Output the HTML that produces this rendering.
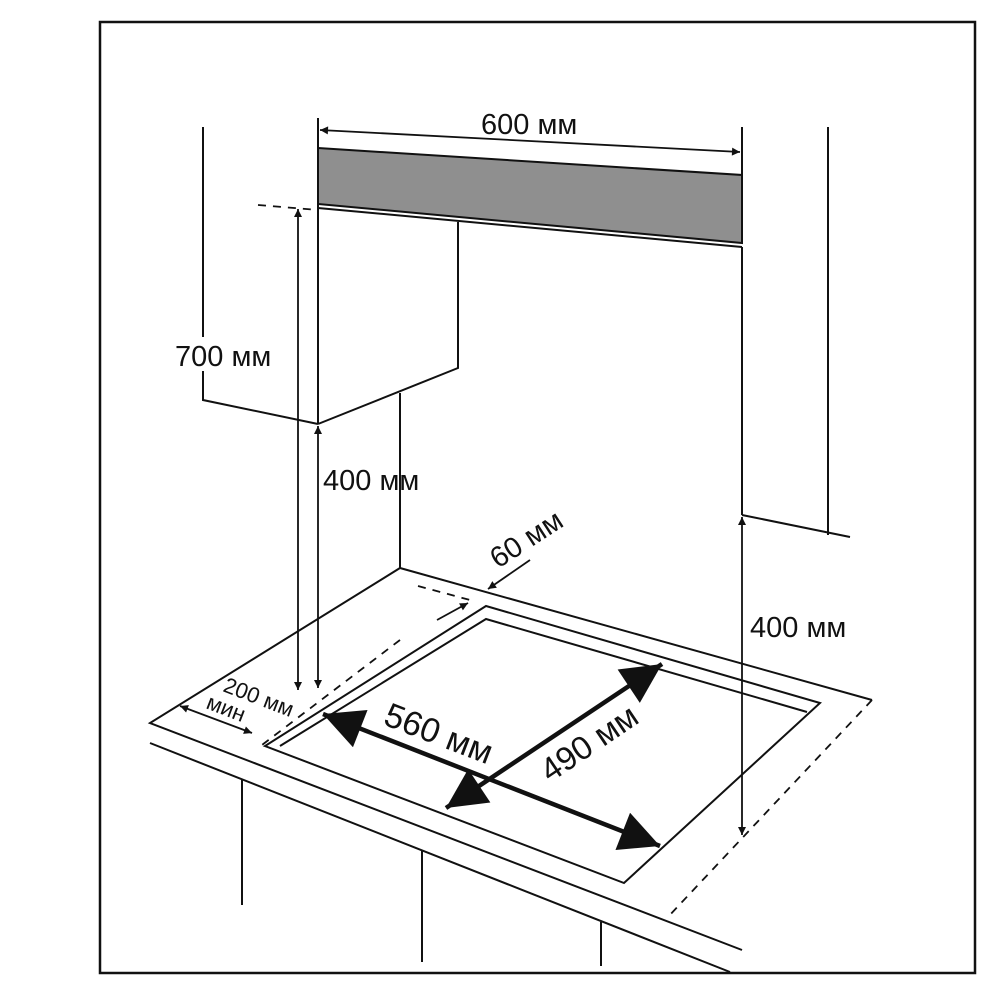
<!DOCTYPE html>
<html><head><meta charset="utf-8"><style>
html,body{margin:0;padding:0;background:#fff;}
svg{display:block;}
text{font-family:"Liberation Sans",sans-serif;fill:#111;}
</style></head><body>
<svg width="1000" height="1000" viewBox="0 0 1000 1000" xmlns="http://www.w3.org/2000/svg">
<defs>
<marker id="a" viewBox="0 0 10 10" refX="10" refY="5" markerWidth="13" markerHeight="8" orient="auto-start-reverse" markerUnits="userSpaceOnUse"><path d="M0,0 L10,5 L0,10 z" fill="#111"/></marker>
<marker id="b" viewBox="0 0 10 10" refX="10" refY="5" markerWidth="48" markerHeight="40" orient="auto-start-reverse" markerUnits="userSpaceOnUse"><path d="M0,0 L10,5 L0,10 z" fill="#111"/></marker>
</defs>
<rect x="100" y="22" width="875" height="951" fill="none" stroke="#111" stroke-width="2.5"/>
<g stroke="#111" stroke-width="2" fill="none">
<polygon points="318,148 742,175 742,243 318,204" fill="#8f8f8f"/>
<line x1="318" y1="208" x2="742" y2="247"/>
<polyline points="203,127 203,400 318,424"/>
<line x1="318" y1="118" x2="318" y2="424"/>
<polyline points="458,222 458,368 318,424"/>
<line x1="400" y1="393" x2="400" y2="568"/>
<polyline points="828,127 828,535"/>
<line x1="742" y1="515" x2="850" y2="537"/>
<line x1="742" y1="127" x2="742" y2="175"/>
<line x1="742" y1="247" x2="742" y2="515"/>
<polyline points="872,700 400,568 150,723 742,950"/>
<line x1="150" y1="743" x2="730" y2="972"/>
<polygon points="486,606 820,703 624,883 265,746"/>
<polyline points="280,746 486,619 807,712"/>
<line x1="242" y1="780" x2="242" y2="905"/>
<line x1="422" y1="850" x2="422" y2="962"/>
<line x1="601" y1="922" x2="601" y2="966"/>
</g>
<g stroke="#111" stroke-width="1.8" fill="none" stroke-dasharray="8,7">
<line x1="258" y1="205" x2="318" y2="210"/>
<line x1="872" y1="700" x2="667" y2="918"/>
<line x1="400" y1="640" x2="258" y2="748"/>
<line x1="418" y1="586" x2="470" y2="600"/>
</g>
<g stroke="#111" stroke-width="1.8" fill="none">
<line x1="320" y1="130" x2="740" y2="152" marker-start="url(#a)" marker-end="url(#a)"/>
<line x1="298" y1="209" x2="298" y2="690" marker-start="url(#a)" marker-end="url(#a)"/>
<line x1="318" y1="426" x2="318" y2="688" marker-start="url(#a)" marker-end="url(#a)"/>
<line x1="742" y1="517" x2="742" y2="835" marker-start="url(#a)" marker-end="url(#a)"/>
<line x1="530" y1="560" x2="488" y2="589" marker-end="url(#a)"/>
<line x1="437" y1="620" x2="468" y2="603" marker-end="url(#a)"/>
<line x1="180" y1="706" x2="252" y2="733" marker-start="url(#a)" marker-end="url(#a)"/>
</g>
<g stroke="#111" stroke-width="4.5" fill="none">
<line x1="323" y1="714" x2="660" y2="846" marker-start="url(#b)" marker-end="url(#b)"/>
<line x1="446" y1="808" x2="662" y2="664" marker-start="url(#b)" marker-end="url(#b)"/>
</g>
<rect x="172" y="337" width="108" height="34" fill="#fff"/>
<g font-size="29">
<text x="481" y="134">600 мм</text>
<text x="175" y="366">700 мм</text>
<text x="323" y="490">400 мм</text>
<text x="750" y="637">400 мм</text>
<text font-size="29" transform="translate(498,569) rotate(-33)">60 мм</text>
<text font-size="34" transform="translate(382,724) rotate(21)">560 мм</text>
<text font-size="33" transform="translate(550,783) rotate(-34)">490 мм</text>
<text font-size="22" transform="translate(222,691) rotate(21)">200 мм</text>
<text font-size="22" transform="translate(205,708) rotate(21)">мин</text>
</g>
</svg>
</body></html>
